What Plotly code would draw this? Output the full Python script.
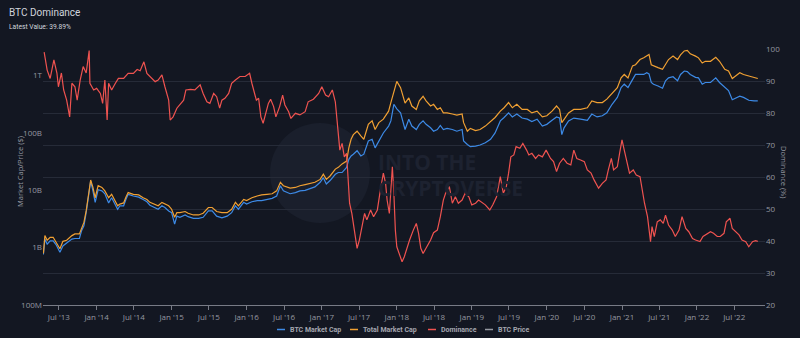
import pandas as pd
import plotly.graph_objects as go

# ---- market capitalisation (USD billions), sampled at decimal-year times ----
cap_t = [
    2013.29, 2013.31, 2013.34, 2013.38, 2013.42, 2013.46, 2013.51, 2013.55, 2013.60, 2013.67,
    2013.71, 2013.77, 2013.80, 2013.83, 2013.86, 2013.89, 2013.92, 2013.95, 2013.98,
    2014.02, 2014.07, 2014.11, 2014.16, 2014.20, 2014.25, 2014.28, 2014.31, 2014.36, 2014.39,
    2014.42, 2014.49, 2014.56, 2014.62, 2014.67, 2014.71, 2014.78, 2014.82, 2014.87, 2014.91,
    2014.96, 2015.00, 2015.04, 2015.07, 2015.11, 2015.18, 2015.22, 2015.29, 2015.36, 2015.42,
    2015.49, 2015.54, 2015.60, 2015.67,
    2015.74, 2015.80, 2015.85, 2015.89, 2015.96,
    2016.00, 2016.07, 2016.14, 2016.20, 2016.27, 2016.34, 2016.40, 2016.45, 2016.49, 2016.54,
    2016.58, 2016.65, 2016.71, 2016.78, 2016.85, 2016.91, 2016.98,
    2017.02, 2017.06, 2017.11, 2017.18, 2017.22, 2017.27, 2017.33, 2017.36, 2017.39, 2017.42,
    2017.47, 2017.52, 2017.56, 2017.62, 2017.67, 2017.71, 2017.76, 2017.82, 2017.89, 2017.92,
    2017.96, 2018.00, 2018.05,
    2018.09, 2018.11, 2018.16, 2018.20, 2018.26, 2018.30, 2018.35, 2018.39, 2018.45, 2018.49,
    2018.54, 2018.58, 2018.62, 2018.67, 2018.74, 2018.80, 2018.87, 2018.89, 2018.94, 2018.98,
    2019.05, 2019.11, 2019.18, 2019.25, 2019.31, 2019.38, 2019.43, 2019.49, 2019.54, 2019.60,
    2019.67, 2019.74, 2019.80, 2019.87, 2019.94,
    2020.00, 2020.07, 2020.13, 2020.17, 2020.20, 2020.23, 2020.29, 2020.36, 2020.42, 2020.45,
    2020.54, 2020.60, 2020.67, 2020.74, 2020.80, 2020.87, 2020.94, 2020.99,
    2021.03, 2021.08, 2021.14, 2021.18, 2021.24, 2021.29, 2021.33, 2021.36, 2021.39, 2021.42,
    2021.48, 2021.54, 2021.58, 2021.62, 2021.68, 2021.74, 2021.78, 2021.83, 2021.87, 2021.91,
    2021.98,
    2022.02, 2022.07, 2022.11, 2022.18, 2022.25, 2022.30, 2022.37, 2022.42, 2022.47, 2022.51,
    2022.57, 2022.62, 2022.69, 2022.76, 2022.81,
]

total_cap_bn = [
    0.794, 1.622, 1.349, 1.514, 1.514, 1.230, 0.955, 1.288, 1.349, 1.622,
    1.738, 1.738, 2.239, 2.754, 4.365, 8.511, 15.14, 11.22, 7.413,
    12.02, 11.22, 9.772, 7.413, 8.511, 6.607, 5.370, 5.754, 6.026, 7.586,
    9.120, 8.511, 8.318, 7.413, 6.918, 6.166, 5.754, 5.370, 6.166, 5.754,
    5.370, 4.677, 3.388, 4.074, 4.074, 4.266, 3.981, 3.715, 3.715, 3.981,
    5.012, 5.012, 4.266, 4.074,
    4.074, 4.677, 6.166, 5.370, 6.918,
    6.607, 7.413, 7.943, 8.318, 8.511, 8.710, 9.772, 13.80, 12.02, 11.22,
    10.96, 11.22, 12.02, 12.59, 13.18, 13.80, 15.49,
    19.05, 15.49, 17.78, 23.44, 25.12, 28.84, 32.36, 54.95, 77.62, 93.33,
    107.2, 89.13, 77.62, 141.3, 162.2, 114.8, 151.4, 173.8, 239.9, 338.8,
    537.0, 794.3, 616.6,
    407.4, 331.1, 407.4, 295.1, 257.0, 363.1, 436.5, 363.1, 295.1, 316.2,
    257.0, 275.4, 223.9, 223.9, 213.8, 204.2, 213.8, 151.4, 107.2, 120.2,
    109.6, 114.8, 131.8, 162.2, 186.2, 239.9, 275.4, 338.8, 275.4, 316.2,
    257.0, 257.0, 223.9, 239.9, 190.5,
    199.5, 239.9, 295.1, 257.0, 151.4, 173.8, 223.9, 257.0, 257.0, 257.0,
    275.4, 363.1, 338.8, 338.8, 389.0, 501.2, 616.6, 912.0,
    1047, 912.0, 1479, 1549, 1905, 2042, 2188, 2344, 1549, 1479,
    1380, 1288, 1549, 1905, 2188, 1905, 2291, 2692, 2754, 2399,
    2188,
    2042, 1660, 1778, 1778, 2089, 1778, 1288, 1202, 891.3, 977.2,
    1122, 1047, 977.2, 912.0, 891.3,
]

btc_cap_bn = [
    0.759, 1.413, 1.148, 1.318, 1.318, 1.122, 0.832, 1.072, 1.202, 1.413,
    1.445, 1.445, 1.995, 2.399, 4.074, 7.943, 14.45, 9.772, 6.166,
    10.23, 9.772, 8.710, 6.026, 7.413, 5.754, 4.677, 5.370, 5.370, 6.918,
    8.511, 7.943, 7.586, 6.918, 6.310, 5.495, 5.012, 4.677, 5.370, 5.012,
    4.365, 4.074, 2.570, 3.548, 3.388, 3.715, 3.467, 3.236, 3.236, 3.388,
    4.365, 4.365, 3.548, 3.311,
    3.548, 4.074, 5.370, 4.677, 6.166,
    5.754, 6.310, 6.607, 6.607, 6.918, 7.244, 7.943, 12.02, 9.772, 9.120,
    8.710, 9.120, 9.772, 10.00, 10.96, 11.48, 13.80,
    16.60, 12.88, 14.79, 19.05, 20.42, 20.42, 25.12, 34.67, 39.81, 42.66,
    48.98, 39.81, 42.66, 72.44, 77.62, 54.95, 72.44, 100.0, 131.8, 162.2,
    316.2, 263.0, 223.9,
    131.8, 114.8, 173.8, 131.8, 114.8, 141.3, 162.2, 141.3, 123.0, 107.2,
    114.8, 134.9, 114.8, 120.2, 114.8, 107.2, 114.8, 72.44, 63.10, 57.54,
    58.88, 61.66, 67.61, 77.62, 100.0, 162.2, 186.2, 223.9, 190.5, 213.8,
    182.0, 173.8, 158.5, 173.8, 131.8,
    141.3, 166.0, 190.5, 182.0, 93.33, 123.0, 162.2, 182.0, 173.8, 173.8,
    166.0, 213.8, 190.5, 199.5, 223.9, 316.2, 416.9, 616.6,
    707.9, 616.6, 851.1, 1047, 1047, 1047, 1122, 1072, 758.6, 707.9,
    660.7, 602.6, 812.8, 912.0, 955.0, 812.8, 1047, 1202, 1175, 1047,
    933.3,
    912.0, 707.9, 758.6, 758.6, 912.0, 758.6, 616.6, 549.5, 380.2, 398.1,
    436.5, 416.9, 371.5, 363.1, 363.1,
]

# ---- BTC dominance (%) ----
dom_t = [
    2013.30, 2013.34, 2013.38, 2013.43, 2013.47, 2013.49, 2013.53, 2013.56, 2013.60, 2013.64,
    2013.67, 2013.71, 2013.74, 2013.78, 2013.82, 2013.86, 2013.90, 2013.91, 2013.96,
    2014.00, 2014.05, 2014.08, 2014.11, 2014.14, 2014.16, 2014.20, 2014.25, 2014.29, 2014.36,
    2014.42, 2014.49, 2014.54, 2014.58, 2014.63, 2014.67, 2014.74, 2014.78, 2014.82, 2014.87,
    2014.91, 2014.96, 2014.98,
    2015.02, 2015.07, 2015.11, 2015.16, 2015.19, 2015.25, 2015.31, 2015.38, 2015.42, 2015.47,
    2015.51, 2015.56, 2015.60, 2015.64, 2015.67,
    2015.71, 2015.76, 2015.80, 2015.85, 2015.91, 2015.98,
    2016.04, 2016.07, 2016.09, 2016.13, 2016.16, 2016.19, 2016.22, 2016.25, 2016.29, 2016.32,
    2016.36, 2016.39, 2016.44, 2016.48, 2016.51, 2016.56, 2016.59, 2016.65, 2016.71, 2016.78,
    2016.82, 2016.89, 2016.96,
    2017.00, 2017.05, 2017.09, 2017.14, 2017.18, 2017.20, 2017.22, 2017.24, 2017.27, 2017.30,
    2017.33, 2017.35, 2017.37, 2017.40, 2017.43, 2017.47, 2017.50, 2017.54, 2017.57, 2017.60,
    2017.65, 2017.69, 2017.74, 2017.78, 2017.82, 2017.85, 2017.87, 2017.90, 2017.94, 2017.96,
    2017.98,
    2018.00, 2018.05, 2018.07, 2018.10, 2018.14, 2018.17, 2018.22, 2018.26, 2018.29, 2018.32,
    2018.35, 2018.39, 2018.45, 2018.49, 2018.54, 2018.58, 2018.62, 2018.65, 2018.70, 2018.74,
    2018.78, 2018.82, 2018.87, 2018.91, 2018.96,
    2019.00, 2019.05, 2019.09, 2019.14, 2019.18, 2019.24, 2019.28, 2019.33, 2019.36, 2019.38,
    2019.42, 2019.46, 2019.49, 2019.52, 2019.56, 2019.59, 2019.64, 2019.68, 2019.73, 2019.76,
    2019.80, 2019.85, 2019.89, 2019.94, 2019.99,
    2020.05, 2020.09, 2020.13, 2020.17, 2020.22, 2020.27, 2020.32, 2020.36, 2020.40, 2020.45,
    2020.50, 2020.54, 2020.59, 2020.63, 2020.69, 2020.74, 2020.79, 2020.82, 2020.86, 2020.89,
    2020.94, 2020.97,
    2021.00, 2021.03, 2021.07, 2021.10, 2021.15, 2021.19, 2021.24, 2021.27, 2021.30, 2021.34,
    2021.36, 2021.38, 2021.40, 2021.43, 2021.47, 2021.51, 2021.55, 2021.58, 2021.62, 2021.67,
    2021.71, 2021.76, 2021.80, 2021.85, 2021.89, 2021.94, 2021.98,
    2022.04, 2022.08, 2022.14, 2022.18, 2022.22, 2022.27, 2022.31, 2022.36, 2022.39, 2022.44,
    2022.47, 2022.51, 2022.56, 2022.60, 2022.65, 2022.69, 2022.74, 2022.78, 2022.81,
]

dominance = [
    99.0, 93.4, 90.8, 96.6, 92.5, 88.2, 92.5, 87.2, 84.0, 78.8,
    89.3, 88.2, 84.0, 90.3, 94.5, 92.5, 99.5, 89.3, 87.2,
    87.7, 86.1, 83.0, 90.3, 77.8, 89.3, 87.2, 89.3, 90.8, 90.8,
    92.4, 92.4, 93.6, 93.2, 96.0, 92.4, 90.8, 89.8, 90.3, 91.9,
    88.2, 84.0, 77.8,
    78.8, 81.5, 82.5, 84.0, 87.2, 87.4, 87.2, 88.8, 86.1, 83.5,
    83.0, 86.1, 85.1, 81.5, 84.0,
    84.6, 86.1, 89.3, 90.3, 91.4, 91.4,
    92.4, 89.3, 87.2, 84.0, 84.6, 78.8, 76.8, 79.9, 83.0, 84.3,
    82.0, 78.8, 82.0, 85.6, 82.5, 80.4, 78.3, 79.9, 79.4, 80.4,
    83.5, 84.3, 86.1,
    88.2, 85.6, 85.1, 87.2, 83.5, 77.8, 71.6, 68.4, 70.5, 66.3,
    67.4, 58.0, 51.8, 48.6, 44.5, 37.7, 40.3, 44.5, 48.6, 46.6,
    49.7, 47.6, 49.7, 55.9, 61.2, 58.0, 52.8, 48.6, 63.2, 54.9,
    43.4,
    38.2, 34.5, 33.5, 35.1, 38.2, 40.3, 43.4, 45.5, 42.4, 37.7,
    36.1, 37.7, 40.3, 42.6, 43.4, 47.6, 52.8, 54.9, 57.0, 51.8,
    53.8, 51.8, 52.8, 54.9, 53.8,
    51.3, 51.8, 52.8, 51.8, 51.3, 49.7, 51.3, 53.8, 57.0, 60.1,
    54.9, 57.0, 61.2, 66.3, 66.9, 69.5, 69.0, 70.5, 68.4, 66.9,
    67.4, 65.8, 66.9, 66.3, 68.4,
    65.8, 64.8, 61.7, 64.3, 65.8, 64.3, 63.8, 68.4, 65.8, 65.3,
    64.8, 62.2, 61.2, 59.1, 56.5, 58.0, 59.1, 62.2, 65.8, 62.2,
    63.2, 67.4,
    71.6, 68.4, 63.8, 61.2, 62.2, 60.6, 60.1, 55.9, 51.8, 47.6,
    43.4, 39.8, 44.5, 41.4, 46.0, 46.6, 45.5, 48.1, 45.0, 43.4,
    41.4, 43.4, 47.6, 43.9, 42.9, 40.8, 40.3,
    39.8, 41.4, 42.4, 42.9, 42.4, 41.4, 41.4, 42.4, 46.0, 47.1,
    43.9, 42.9, 41.9, 40.3, 39.8, 38.2, 39.8, 40.1, 39.89,
]

cap_tickvals = [1e8, 1e9, 1e10, 1e11, 1e12]
cap_ticktext = ["100M", "1B", "10B", "100B", "1T"]

series_names = ["BTC Market Cap", "Total Market Cap", "Dominance", "BTC Price"]
series_colors = ["#3d8ae6", "#f0a033", "#ef5350", "#9598a1"]

assert len(cap_t) == len(total_cap_bn) == len(btc_cap_bn)
assert len(dom_t) == len(dominance)


def to_dates(years):
    out = []
    for y in years:
        whole = int(y)
        start = pd.Timestamp(year=whole, month=1, day=1)
        out.append(start + pd.Timedelta(days=(y - whole) * 365.25))
    return out


cap_dates = to_dates(cap_t)
dom_dates = to_dates(dom_t)

BG = "#131722"
TICK = "#9598a1"
TEXT = "#d1d4dc"
FONT = "Open Sans"
HEAD_FONT = "Roboto"

fig = go.Figure()
fig.add_trace(go.Scatter(
    x=cap_dates, y=[v * 1e9 for v in btc_cap_bn], name=series_names[0],
    mode="lines", line=dict(color=series_colors[0], width=1.2), showlegend=False,
))
fig.add_trace(go.Scatter(
    x=cap_dates, y=[v * 1e9 for v in total_cap_bn], name=series_names[1],
    mode="lines", line=dict(color=series_colors[1], width=1.2), showlegend=False,
))
fig.add_trace(go.Scatter(
    x=dom_dates, y=dominance, name=series_names[2], yaxis="y2",
    mode="lines", line=dict(color=series_colors[2], width=1.2), showlegend=False,
))

# plot area in pixels
L, R, T, B = 43, 765, 49, 305
W, H = R - L, B - T


def px(x):
    return (x - L) / W


def py(y):
    return (B - y) / H


fig.update_layout(
    width=800, height=338,
    margin=dict(l=L, r=800 - R, t=T, b=338 - B),
    paper_bgcolor=BG, plot_bgcolor=BG,
    font=dict(family=FONT, color=TICK, size=8),
    showlegend=False,
    xaxis=dict(
        type="date",
        range=["2013-04-15", "2022-11-28"],
        tick0="2013-07-01", dtick="M6", tickformat="%b '%y",
        ticks="outside", ticklen=4, tickcolor="#787b86",
        showline=True, linecolor="#787b86", linewidth=1,
        showgrid=False, zeroline=False,
        tickfont=dict(size=8, color=TICK),
    ),
    yaxis=dict(
        type="log", range=[8, 12.464],
        tickvals=cap_tickvals, ticktext=cap_ticktext,
        showgrid=False, zeroline=False, showline=False,
        tickfont=dict(size=8, color=TICK),
    ),
    yaxis2=dict(
        overlaying="y", side="right", range=[20, 100], dtick=10,
        showgrid=True, gridcolor="#262b38", gridwidth=1,
        zeroline=False, showline=False,
        tickfont=dict(size=8, color=TICK),
    ),
)

annotations = [
    dict(text="BTC Dominance", x=px(7), y=py(12.5), xref="paper", yref="paper",
         xanchor="left", yanchor="middle", showarrow=False,
         font=dict(size=10, color=TEXT, family=HEAD_FONT)),
    dict(text=f"Latest Value: {dominance[-1]:.2f}%", x=px(7), y=py(26.5),
         xref="paper", yref="paper", xanchor="left", yanchor="middle",
         showarrow=False, font=dict(size=6.7, color=TEXT, family=HEAD_FONT)),
    dict(text="Market Cap/Price ($)", x=px(13), y=py(172), xref="paper", yref="paper",
         textangle=-90, showarrow=False, font=dict(size=7.5, color=TICK, family=FONT)),
    dict(text="Dominance (%)", x=px(791), y=py(172), xref="paper", yref="paper",
         textangle=90, showarrow=False, font=dict(size=7.5, color=TICK, family=FONT)),
    # watermark
    dict(text="<b>INTO THE</b>", x=px(376), y=py(162), xref="paper", yref="paper",
         xanchor="left", yanchor="middle", showarrow=False,
         font=dict(size=21, color="#1d2230", family=FONT)),
    dict(text="<b>CRYPTOVERSE</b>", x=px(376), y=py(188), xref="paper", yref="paper",
         xanchor="left", yanchor="middle", showarrow=False,
         font=dict(size=21, color="#1d2230", family=FONT)),
]

shapes = [
    dict(type="circle", xref="paper", yref="paper", layer="below",
         x0=px(270), x1=px(370), y0=py(223), y1=py(123),
         fillcolor="#1a1f2c", line=dict(width=0)),
]

# custom legend: short line swatches followed by labels
legend_line_x = [277, 350, 428, 485]
legend_y = 329.5
for name, color, lx in zip(series_names, series_colors, legend_line_x):
    shapes.append(dict(type="line", xref="paper", yref="paper",
                       x0=px(lx), x1=px(lx + 8), y0=py(legend_y), y1=py(legend_y),
                       line=dict(color=color, width=1.5)))
    annotations.append(dict(text=f"<b>{name}</b>", x=px(lx + 11), y=py(legend_y),
                            xref="paper", yref="paper", xanchor="left", yanchor="middle",
                            showarrow=False, font=dict(size=7, color="#a3a6af", family=HEAD_FONT)))

fig.update_layout(annotations=annotations, shapes=shapes)

fig.write_html("out.html")
